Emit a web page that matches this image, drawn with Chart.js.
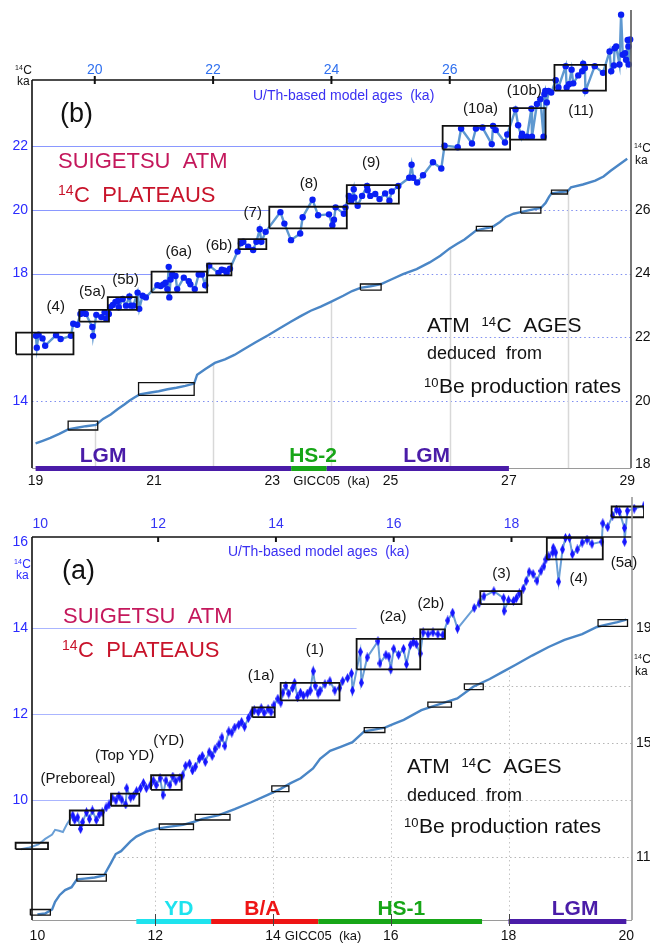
<!DOCTYPE html>
<html>
<head>
<meta charset="utf-8">
<script src="https://cdn.jsdelivr.net/npm/chart.js@4/dist/chart.umd.min.js"></script>
<style>
  html, body { margin: 0; padding: 0; background: #fff; }
  #wrap { position: relative; width: 650px; height: 943px; }
  canvas { position: absolute; left: 0; }
  #panelB { top: 0; }
  #panelA { top: 490px; }
</style>
</head>
<body>
<div id="wrap">
  <canvas id="panelB" width="650" height="490"></canvas>
  <canvas id="panelA" width="650" height="453"></canvas>
</div>
<script>
// ---------- panel (b): 19-29 ka ----------
// Suigetsu atmospheric 14C ages: [U/Th model age ka, 14C ka]
const suigetsuB = [
  [19.005,16.04],[19.02,15.67],[19.05,16.08],[19.117,15.96],[19.162,15.73],[19.346,16.06],[19.423,15.94],[19.597,16.04],
  [19.636,16.42],[19.703,16.39],[19.758,16.73],[19.803,16.78],[19.849,16.73],[19.959,16.32],[19.971,16.04],[20.026,16.70],
  [20.11,16.63],[20.166,16.78],[20.193,16.58],[20.238,16.73],[20.26,16.94],[20.305,17.01],[20.35,17.11],[20.389,17.14],
  [20.406,16.94],[20.473,17.20],[20.528,16.99],[20.585,17.28],[20.612,16.99],[20.652,16.99],[20.724,17.40],[20.752,16.89],
  [20.808,17.30],[20.863,17.25],[21.059,17.63],[21.114,17.61],[21.159,17.66],[21.197,17.71],[21.226,17.51],[21.25,18.21],
  [21.26,17.25],[21.281,17.81],[21.31,17.97],[21.365,17.92],[21.393,17.51],[21.505,17.87],[21.589,17.76],[21.616,17.66],
  [21.69,17.51],[21.757,17.97],[21.812,17.97],[21.867,17.63],[21.934,18.25],[22.091,18.02],[22.146,18.12],[22.192,18.10],
  [22.23,18.02],[22.285,18.15],[22.414,18.69],[22.47,18.95],[22.51,19.00],[22.593,18.84],[22.677,18.74],[22.732,19.00],
  [22.788,19.39],[22.816,19.00],[22.888,19.31],[23.138,19.93],[23.205,19.57],[23.317,19.05],[23.472,19.26],[23.514,19.77],
  [23.681,20.32],[23.775,19.83],[23.959,19.86],[24.016,19.52],[24.043,19.69],[24.071,20.08],[24.21,19.88],[24.238,20.08],
  [24.294,20.44],[24.334,20.29],[24.377,20.65],[24.389,20.39],[24.444,20.13],[24.518,20.44],[24.602,20.75],[24.612,20.62],
  [24.657,20.44],[24.741,20.50],[24.813,20.34],[24.908,20.52],[24.98,20.29],[25.02,20.58],[25.131,20.75],[25.315,21.01],
  [25.355,21.42],[25.382,21.01],[25.449,20.86],[25.549,21.09],[25.716,21.50],[25.857,21.30],[25.912,22.02],[26.135,21.97],
  [26.192,22.56],[26.376,22.09],[26.443,22.56],[26.553,22.59],[26.71,22.07],[26.732,22.64],[26.777,22.51],[26.933,22.12],
  [26.972,22.37],[27.112,23.16],[27.156,22.66],[27.213,22.30],[27.223,22.40],[27.306,22.30],[27.38,23.18],[27.39,22.30],
  [27.474,23.33],[27.531,23.48],[27.586,22.30],[27.6,23.64],[27.614,23.74],[27.641,23.38],[27.67,23.74],[27.715,23.69],
  [27.792,24.08],[27.837,23.85],[27.96,24.52],[27.976,23.85],[28.016,23.95],[28.06,24.41],[28.088,23.98],[28.172,24.23],
  [28.238,24.36],[28.255,24.60],[28.284,24.46],[28.294,23.74],[28.451,24.52],[28.59,24.31],[28.702,24.98],[28.729,24.36],
  [28.774,24.54],[28.786,25.08],[28.813,25.14],[28.869,24.57],[28.896,26.14],[28.925,24.88],[28.963,24.93],[28.98,24.72],
  [29.008,25.34],[29.02,25.14],[29.025,24.57],[29.05,25.36]
];
// 14C ages deduced from 10Be production rates: [GICC05 ka, 14C ka]
const beCurveB = [
  [19.0,18.66],[19.12,18.74],[19.25,18.83],[19.4,18.96],[19.55,19.1],[19.7,19.15],[19.85,19.2],[20.02,19.24],
  [20.14,19.43],[20.27,19.57],[20.39,19.74],[20.5,19.88],[20.59,20.01],[20.67,20.1],[20.76,20.2],[20.92,20.25],
  [21.08,20.3],[21.23,20.36],[21.38,20.41],[21.53,20.47],[21.68,20.54],[21.73,20.82],[21.87,21.0],[22.03,21.19],
  [22.2,21.3],[22.36,21.44],[22.52,21.62],[22.72,21.84],[22.93,22.06],[23.12,22.27],[23.32,22.49],[23.48,22.66],
  [23.65,22.83],[23.82,22.96],[23.99,23.11],[24.2,23.3],[24.35,23.45],[24.49,23.55],[24.66,23.6],[24.84,23.67],
  [25.02,23.82],[25.21,23.98],[25.44,24.14],[25.66,24.35],[25.84,24.56],[26.0,24.79],[26.12,24.93],[26.25,25.07],
  [26.45,25.36],[26.6,25.42],[26.72,25.46],[26.85,25.62],[26.95,25.78],[27.08,25.88],[27.2,25.93],[27.37,26.0],
  [27.54,26.06],[27.62,26.22],[27.68,26.42],[27.72,26.52],[27.86,26.56],[27.99,26.58],[28.05,26.71],[28.25,26.8],
  [28.46,26.92],[28.6,27.05],[28.72,27.23],[28.86,27.42],[29.0,27.61]
];
// plateau boxes: [age from, age to, 14C from, 14C to]
const plateausB = [
  [18.67,19.64,15.46,16.14],[19.74,20.24,16.49,16.86],[20.22,20.71,16.86,17.26],[20.96,21.90,17.41,18.06],
  [21.90,22.31,17.94,18.31],[22.43,22.90,18.77,19.08],[22.95,24.26,19.42,20.10],[24.26,25.14,20.20,20.78],
  [25.88,27.02,21.90,22.64],[27.02,27.62,22.21,23.20],[27.77,28.64,23.75,24.56]
];
const beBoxesB = [
  [19.55,20.05,19.08,19.36],[20.74,21.68,20.17,20.57],[24.49,24.84,23.48,23.67],
  [26.45,26.72,25.34,25.48],[27.20,27.54,25.90,26.09],[27.72,27.99,26.50,26.62]
];
const plateauNamesB = ['(4)','(5a)','(5b)','(6a)','(6b)','(7)','(8)','(9)','(10a)','(10b)','(11)'];
const plateauTagsB = [
  [19.34,16.96],[19.96,17.43],[20.52,17.80],[21.42,18.67],[22.10,18.87],[22.67,19.90],
  [23.62,20.82],[24.67,21.48],[26.52,23.18],[27.26,23.74],[28.22,23.12]
];
// climate periods: [name, GICC05 from, GICC05 to, label centre]
const periodsB = [['LGM',19,23.32,20.14],['HS-2',23.32,23.92,23.69],['LGM',23.92,27.0,25.61]];
const guidesB = [[22,25.88],[20,22.95],[18,20.96]];
const gicTicksB = [19,21,23,25,27,29];
const uthTicksB = [20,22,24,26];
const leftTicksB = [22,20,18,14];
const rightTicksB = [18,20,22,24,26];

// ---------- panel (a): 10-20 ka ----------
const suigetsuA = [
  [9.667,8.85],[9.817,8.89],[9.967,8.96],[10.083,9.09],[10.20,9.19],[10.25,9.30],[10.317,9.28],[10.383,9.25],[10.45,9.43],
  [10.55,9.64],[10.583,9.53],[10.633,9.59],[10.683,9.32],[10.717,9.48],[10.783,9.71],[10.833,9.55],[10.883,9.75],
  [10.95,9.53],[11.0,9.66],[11.05,9.71],[11.117,9.82],[11.167,9.89],[11.217,10.05],[11.283,9.98],[11.333,10.09],
  [11.383,10.0],[11.45,9.89],[11.467,10.27],[11.533,10.05],[11.583,10.09],[11.633,10.20],[11.70,10.27],[11.75,10.39],
  [11.80,10.27],[11.867,10.34],[11.917,10.45],[11.967,10.34],[12.033,10.50],[12.083,10.11],[12.133,10.45],[12.20,10.34],
  [12.25,10.54],[12.30,10.43],[12.367,10.50],[12.417,10.57],[12.467,10.79],[12.533,10.84],[12.583,10.68],[12.633,10.77],
  [12.70,10.95],[12.75,11.02],[12.80,10.88],[12.867,11.11],[12.917,11.02],[12.967,11.18],[13.033,11.29],[13.083,11.45],
  [13.133,11.25],[13.20,11.59],[13.25,11.56],[13.30,11.68],[13.367,11.74],[13.417,11.81],[13.467,11.70],[13.533,11.90],
  [13.583,12.02],[13.633,12.08],[13.70,12.04],[13.75,12.13],[13.80,12.02],[13.867,12.11],[13.917,12.04],[13.967,12.20],
  [14.033,12.35],[14.083,12.26],[14.117,12.49],[14.167,12.65],[14.217,12.47],[14.283,12.60],[14.317,12.72],[14.367,12.38],
  [14.417,12.49],[14.467,12.42],[14.533,12.47],[14.583,12.54],[14.633,12.99],[14.667,12.65],[14.717,12.47],[14.75,12.54],
  [14.833,12.69],[14.917,12.76],[15.0,12.54],[15.083,12.60],[15.133,12.76],[15.217,12.83],[15.283,12.94],[15.30,12.54],
  [15.433,13.44],[15.45,12.72],[15.55,13.31],[15.733,13.69],[15.767,13.17],[15.867,13.37],[15.917,13.33],[15.95,13.03],
  [16.0,13.51],[16.083,13.37],[16.167,13.51],[16.217,13.15],[16.283,13.60],[16.333,13.67],[16.383,13.62],[16.45,13.40],
  [16.50,13.89],[16.583,13.85],[16.667,13.89],[16.75,13.85],[16.833,13.83],[16.917,14.17],[17.0,14.35],[17.083,13.98],
  [17.367,14.46],[17.45,14.57],[17.533,14.73],[17.70,14.85],[17.867,14.69],[17.875,14.39],[17.95,14.64],[18.033,14.62],
  [18.083,14.69],[18.133,14.80],[18.20,14.91],[18.25,15.09],[18.30,15.30],[18.367,15.25],[18.433,15.09],[18.50,15.32],
  [18.55,15.43],[18.583,15.59],[18.633,15.66],[18.70,15.75],[18.71,15.86],[18.75,15.75],[18.80,15.07],[18.867,15.82],
  [18.917,16.09],[18.983,16.09],[19.033,15.71],[19.117,15.82],[19.20,15.98],[19.283,16.05],[19.367,15.95],[19.533,16.0],
  [19.55,16.43],[19.633,16.34],[19.717,16.61],[19.783,16.75],[19.833,16.70],[19.917,16.32],[19.92,16.0],[19.967,16.72],
  [20.083,16.77],[20.25,16.84]
];
const beCurveA = [
  [10.0,9.0],[10.13,9.03],[10.25,9.17],[10.30,9.44],[10.38,9.68],[10.47,9.85],[10.58,9.95],[10.67,10.22],[10.8,10.25],
  [10.97,10.29],[11.13,10.36],[11.25,10.80],[11.33,11.11],[11.42,11.21],[11.58,11.55],[11.68,11.72],[11.85,11.89],
  [12.02,11.99],[12.22,12.06],[12.47,12.13],[12.65,12.23],[12.8,12.34],[13.08,12.47],[13.35,12.68],[13.63,12.92],
  [13.92,13.19],[14.13,13.39],[14.3,13.59],[14.47,13.76],[14.68,14.10],[14.8,14.44],[14.97,14.72],[15.15,14.86],
  [15.35,15.02],[15.55,15.40],[15.72,15.46],[15.9,15.53],[16.05,15.66],[16.22,15.80],[16.52,16.14],[16.83,16.35],
  [17.13,16.55],[17.4,16.96],[17.68,17.23],[17.9,17.48],[18.13,17.74],[18.4,18.05],[18.68,18.35],[18.95,18.6],
  [19.25,18.80],[19.5,19.05],[19.68,19.14],[19.85,19.22],[20.0,19.31]
];
const plateausA = [
  [9.58,10.13,8.85,9.00],[10.50,11.07,9.41,9.75],[11.20,11.68,9.86,10.14],[11.88,12.40,10.23,10.57],
  [13.60,13.98,11.92,12.15],[14.08,15.08,12.31,12.72],[15.37,16.45,13.03,13.74],[16.45,16.87,13.74,13.96],
  [17.47,18.17,14.55,14.85],[18.60,19.55,15.59,16.09],[19.70,20.25,16.57,16.82]
];
const beBoxesA = [
  [9.88,10.22,8.97,9.17],[10.67,11.17,10.16,10.40],[12.07,12.65,11.96,12.16],[12.68,13.27,12.30,12.50],
  [13.98,14.27,13.29,13.49],[15.55,15.90,15.36,15.53],[16.63,17.03,16.25,16.42],[17.25,17.57,16.86,17.06],
  [19.52,20.02,19.07,19.31]
];
const plateauNamesA = ['(Preboreal)','(Top YD)','(YD)','(1a)','(1)','(2a)','(2b)','(3)','(4)','(5a)'];
const plateauTagsA = [
  [10.64,10.49],[11.43,11.01],[12.18,11.37],[13.75,12.88],[14.66,13.48],
  [15.99,14.25],[16.63,14.56],[17.83,15.26],[19.14,15.14],[19.91,15.50]
];
const periodsA = [['YD',11.68,12.95,12.4],['B/A',12.95,14.77,13.82],['HS-1',14.77,17.55,16.18],['LGM',18.0,20.0,19.13]];
const guidesA = [[14,15.37],[12,13.6],[10,11.2]];
const gicTicksA = [10,12,14,16,18,20];
const uthTicksA = [10,12,14,16,18];
const leftTicksA = [16,14,12,10];
const rightTicksA = [19,15,11];

// ---------- drawing ----------
const SANS = '"Liberation Sans", Arial, sans-serif';
const periodColors = { 'LGM': '#4a1ca8', 'HS-2': '#17a617', 'HS-1': '#17a617', 'YD': '#1ee3ee', 'B/A': '#ee1515' };

const points = list => list.map(([x, y]) => ({ x, y }));
const rect = ([t0, t1, v0, v1]) => points([[t0, v0], [t1, v0], [t1, v1], [t0, v1], [t0, v0]]);

function curveAt(curve, t) {
  for (let i = 1; i < curve.length; i++) {
    const [t0, v0] = curve[i - 1], [t1, v1] = curve[i];
    if (t <= t1) return v0 + (v1 - v0) * (t - t0) / (t1 - t0);
  }
  return curve[curve.length - 1][1];
}
function curveReach(curve, v) {
  for (let i = 1; i < curve.length; i++) {
    const [t0, v0] = curve[i - 1], [t1, v1] = curve[i];
    if (v1 >= v) return t0 + (t1 - t0) * (v - v0) / ((v1 - v0) || 1);
  }
  return curve[curve.length - 1][0];
}

// value a at pixel pa, value b at pixel pb, over a canvas side of given length
function fitRange(a, pa, b, pb, length) {
  const k = (b - a) / (pb - pa);
  const v0 = a - pa * k, v1 = a + (length - pa) * k;
  return { min: Math.min(v0, v1), max: Math.max(v0, v1) };
}

function boxSets(list, xAxisID, yAxisID, width) {
  return list.map(b => ({
    data: rect(b), xAxisID, yAxisID, borderColor: '#111', borderWidth: width,
    pointRadius: 0, fill: false, tension: 0, order: 0, borderJoinStyle: 'miter'
  }));
}

function rich(ctx, parts, x, y, size, color) {
  ctx.fillStyle = color;
  ctx.textAlign = 'left';
  ctx.textBaseline = 'alphabetic';
  let cx = x;
  for (const [txt, sup] of parts) {
    ctx.font = `${sup ? Math.round(size * 0.62) : size}px ${SANS}`;
    ctx.fillText(txt, cx, sup ? y - size * 0.3 : y);
    cx += ctx.measureText(txt).width + (sup ? 0.5 : 0);
  }
}

function panelDecor(p) {
  return {
    id: 'panelDecor',
    beforeDatasetsDraw(chart) {
      const ctx = chart.ctx, s = chart.scales, f = p.frame;
      const seg = (x0, y0, x1, y1) => { ctx.beginPath(); ctx.moveTo(x0, y0); ctx.lineTo(x1, y1); ctx.stroke(); };
      ctx.save();
      ctx.lineWidth = 1;
      ctx.strokeStyle = p.guideColor;
      for (const [level, until] of p.guides) {
        const y = Math.round(s.y.getPixelForValue(level)) + 0.5;
        seg(f.l, y, s.x2.getPixelForValue(until), y);
      }
      ctx.setLineDash([1.5, 3]);
      ctx.strokeStyle = p.dotColor;
      for (const level of p.fullDotted) {
        const y = Math.round(s.y.getPixelForValue(level)) + 0.5;
        seg(f.l, y, f.r, y);
      }
      for (const level of p.rightGrid) {
        const y = Math.round(s.y2.getPixelForValue(level)) + 0.5;
        seg(s.x.getPixelForValue(curveReach(p.curve, level)), y, f.r, y);
      }
      ctx.setLineDash(p.dropDash);
      ctx.strokeStyle = p.dropColor;
      ctx.lineWidth = p.dropWidth;
      for (const t of p.drops) {
        const x = Math.round(s.x.getPixelForValue(t)) + 0.5;
        seg(x, f.b, x, s.y2.getPixelForValue(curveAt(p.curve, t)));
      }
      ctx.restore();
    },
    afterDatasetsDraw(chart) {
      const ctx = chart.ctx, s = chart.scales, f = p.frame;
      const seg = (x0, y0, x1, y1) => { ctx.beginPath(); ctx.moveTo(x0, y0); ctx.lineTo(x1, y1); ctx.stroke(); };
      const text = (str, x, y, font, color, align = 'left', base = 'alphabetic') => {
        ctx.font = font; ctx.fillStyle = color; ctx.textAlign = align; ctx.textBaseline = base;
        ctx.fillText(str, x, y);
      };
      ctx.save();

      // GICC05 axis with climate periods
      ctx.lineWidth = 1.2; ctx.strokeStyle = '#9a9a9a';
      seg(f.l, f.b + 0.5, f.r, f.b + 0.5);
      for (const [name, from, to, at] of p.periods) {
        const x0 = s.x.getPixelForValue(from), x1 = s.x.getPixelForValue(to);
        ctx.fillStyle = periodColors[name];
        ctx.fillRect(x0, f.b + p.barTop, x1 - x0, 5);
        text(name, s.x.getPixelForValue(at), f.b - p.labelLift, `bold 21px ${SANS}`, periodColors[name], 'center');
      }
      ctx.strokeStyle = '#444'; ctx.lineWidth = 1;
      for (const t of p.gicMarks) {
        const x = Math.round(s.x.getPixelForValue(t)) + 0.5;
        seg(x, f.b - 6, x, f.b + 6);
      }
      for (const t of p.gicTicks) text(String(t), s.x.getPixelForValue(t), f.b + p.bottomDrop, `14px ${SANS}`, '#111', 'center');
      text('GICC05  (ka)', s.x.getPixelForValue(p.gicTitleAt), f.b + p.bottomDrop, `13px ${SANS}`, '#111', 'center');

      // Suigetsu axes
      ctx.strokeStyle = '#111'; ctx.lineWidth = 1.6;
      seg(f.l, f.t, f.l, f.b);
      seg(f.l, f.t, p.topSpineEnd, f.t);
      ctx.lineWidth = 2;
      for (const t of p.uthMarks) {
        const x = s.x2.getPixelForValue(t);
        seg(x, f.t - p.markUp, x, f.t + p.markDown);
      }
      for (const t of p.uthTicks) text(String(t), s.x2.getPixelForValue(t), f.t - p.uthRise, `14px ${SANS}`, p.uthColor, 'center');
      text('U/Th-based model ages  (ka)', p.uthTitle[0], p.uthTitle[1], `14px ${SANS}`, '#3a30f2');
      for (const v of p.leftTicks) text(String(v), f.l - 4, s.y.getPixelForValue(v), `14px ${SANS}`, '#2b2bff', 'right', 'middle');
      rich(ctx, [['14', true], ['C', false]], p.leftUnit[0], p.leftUnit[1], 12, p.leftUnitColor);
      text('ka', p.leftUnit[0] + 2, p.leftUnit[1] + 11, `12px ${SANS}`, p.leftUnitColor);

      // 10Be axis
      ctx.strokeStyle = p.rightSpineColor; ctx.lineWidth = 1.6;
      seg(f.r, p.rightSpineTop, f.r, f.b);
      for (const v of p.rightTicks) text(String(v), f.r + 4, s.y2.getPixelForValue(v), `14px ${SANS}`, '#111', 'left', 'middle');
      rich(ctx, [['14', true], ['C', false]], p.rightUnit[0], p.rightUnit[1], 12, '#111');
      text('ka', p.rightUnit[0] + 1, p.rightUnit[1] + 12, `12px ${SANS}`, '#111');

      // plateau names
      p.names.forEach((name, i) => {
        const [t, v] = p.tags[i];
        text(name, s.x2.getPixelForValue(t), s.y.getPixelForValue(v), `15px ${SANS}`, '#151515', 'center', 'middle');
      });

      // headings
      text(p.panel, p.panelAt[0], p.panelAt[1], `27px ${SANS}`, '#111');
      text('SUIGETSU  ATM', p.suigetsuAt[0], p.suigetsuAt[1], `22px ${SANS}`, '#c4185c');
      rich(ctx, [['14', true], ['C  PLATEAUS', false]], p.plateauAt[0], p.plateauAt[1], 22, '#c8132a');
      rich(ctx, [['ATM  ', false], ['14', true], ['C  AGES', false]], p.atmAt[0], p.atmAt[1], 21, '#111');
      text('deduced  from', p.atmAt[0], p.atmAt[1] + p.dedGap, `18px ${SANS}`, '#111');
      rich(ctx, [['10', true], ['Be production rates', false]], p.atmAt[0] - 3, p.atmAt[1] + p.beGap, 21, '#111');
      ctx.restore();
    }
  };
}

function scalesFor(r) {
  const base = { type: 'linear', display: false, bounds: 'data', grace: 0 };
  return {
    x:  Object.assign({}, base, { position: 'bottom' }, r.x),
    x2: Object.assign({}, base, { axis: 'x', position: 'top' }, r.x2),
    y:  Object.assign({}, base, { position: 'left' }, r.y),
    y2: Object.assign({}, base, { axis: 'y', position: 'right' }, r.y2)
  };
}

const baseOptions = {
  responsive: false, animation: false, events: [],
  layout: { padding: 0 },
  plugins: { legend: { display: false }, tooltip: { enabled: false } }
};

// elongated diamond marker for the dense Suigetsu record
const diamond = document.createElement('canvas');
diamond.width = 5; diamond.height = 10;
(function () {
  const dc = diamond.getContext('2d');
  dc.fillStyle = '#1515ff';
  dc.beginPath(); dc.moveTo(2.5, 0); dc.lineTo(5, 5); dc.lineTo(2.5, 10); dc.lineTo(0, 5); dc.closePath(); dc.fill();
})();

// panel (b)
new Chart(document.getElementById('panelB'), {
  type: 'line',
  data: {
    datasets: [
      ...boxSets(plateausB, 'x2', 'y', 1.8),
      ...boxSets(beBoxesB, 'x', 'y2', 1.3),
      { data: points(suigetsuB), xAxisID: 'x2', yAxisID: 'y', borderColor: '#5e98d0', borderWidth: 2.4,
        pointRadius: 3.2, pointBackgroundColor: '#0a1ff4', pointBorderWidth: 0, tension: 0, order: 1 },
      { data: points(beCurveB), xAxisID: 'x', yAxisID: 'y2', borderColor: '#4a86c6', borderWidth: 2.4,
        pointRadius: 0, tension: 0, order: 2 }
    ]
  },
  options: Object.assign({}, baseOptions, {
    scales: scalesFor({
      x: fitRange(19, 32, 29, 631, 650), x2: fitRange(19, 32, 29, 631, 650),
      y: fitRange(24, 80, 12, 468, 490), y2: fitRange(30, 80, 18, 468, 490)
    })
  }),
  plugins: [panelDecor({
    frame: { l: 32, r: 631, t: 80, b: 468 }, curve: beCurveB,
    guides: guidesB, guideColor: '#8a98ff',
    fullDotted: [14], rightGrid: [22, 24, 26], dotColor: '#7f8ef0',
    drops: [20, 22, 24, 26, 28], dropColor: '#d8d8d8', dropWidth: 1.5, dropDash: [],
    periods: periodsB, barTop: -2, labelLift: 6,
    gicTicks: gicTicksB, gicMarks: [], gicTitleAt: 24.0, bottomDrop: 17,
    topSpineEnd: 553, uthMarks: uthTicksB, uthTicks: uthTicksB, markUp: 4, markDown: 4, uthRise: 6,
    uthColor: '#2f70ef', uthTitle: [253, 100],
    leftTicks: leftTicksB, leftUnit: [15, 74], leftUnitColor: '#111',
    rightSpineColor: '#555', rightSpineTop: 10, rightTicks: rightTicksB, rightUnit: [634, 152],
    names: plateauNamesB, tags: plateauTagsB,
    panel: '(b)', panelAt: [60, 122], suigetsuAt: [58, 168], plateauAt: [58, 202],
    atmAt: [427, 332], dedGap: 27, beGap: 61
  })]
});

// panel (a)
new Chart(document.getElementById('panelA'), {
  type: 'line',
  data: {
    datasets: [
      ...boxSets(plateausA, 'x2', 'y', 1.8),
      ...boxSets(beBoxesA, 'x', 'y2', 1.3),
      { data: points(suigetsuA), xAxisID: 'x2', yAxisID: 'y', borderColor: '#6a9fd6', borderWidth: 2,
        pointStyle: diamond, pointRadius: c => (c.raw && c.raw.x < 10.5 ? 0 : 3), tension: 0, order: 1 },
      { data: points(beCurveA), xAxisID: 'x', yAxisID: 'y2', borderColor: '#4a86c6', borderWidth: 2.4,
        pointRadius: 0, tension: 0, order: 2 }
    ]
  },
  options: Object.assign({}, baseOptions, {
    scales: scalesFor({
      x: fitRange(10, 32, 20, 632, 650), x2: fitRange(10, 35, 20, 635, 650),
      y: fitRange(16, 47, 10, 312, 453), y2: fitRange(19, 136, 11, 371, 453)
    })
  }),
  plugins: [panelDecor({
    frame: { l: 32, r: 632, t: 47, b: 430 }, curve: beCurveA,
    guides: guidesA, guideColor: '#aab5ff',
    fullDotted: [], rightGrid: [11, 13, 15, 17], dotColor: '#b5b5b5',
    drops: [12, 14, 16, 18], dropColor: '#c4c4c4', dropWidth: 1, dropDash: [1.5, 3],
    periods: periodsA, barTop: -1, labelLift: 5,
    gicTicks: gicTicksA, gicMarks: [12, 14, 16, 18], gicTitleAt: 14.85, bottomDrop: 20,
    topSpineEnd: 632, uthMarks: [12, 14, 16, 18], uthTicks: uthTicksA, markUp: 0, markDown: 5, uthRise: 9,
    uthColor: '#3434f4', uthTitle: [228, 66],
    leftTicks: leftTicksA, leftUnit: [14, 78], leftUnitColor: '#2b2bff',
    rightSpineColor: '#999', rightSpineTop: 7, rightTicks: rightTicksA, rightUnit: [634, 173],
    names: plateauNamesA, tags: plateauTagsA,
    panel: '(a)', panelAt: [62, 89], suigetsuAt: [63, 133], plateauAt: [62, 167],
    atmAt: [407, 283], dedGap: 28, beGap: 60
  })]
});
</script>
</body>
</html>
